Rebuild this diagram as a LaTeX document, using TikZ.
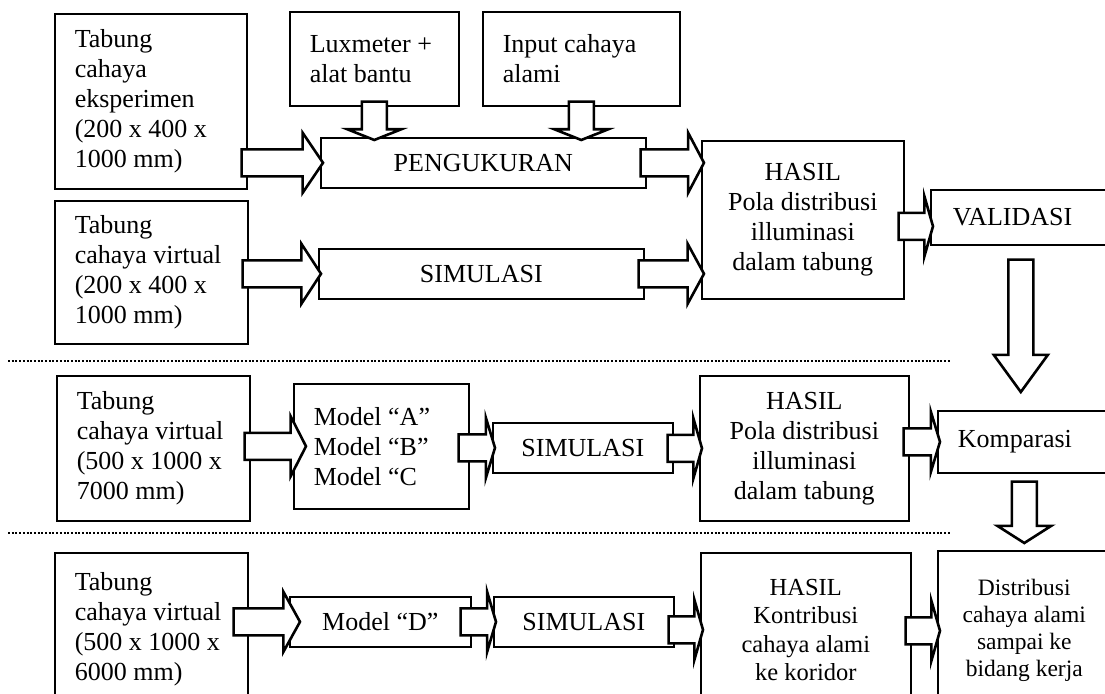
\documentclass[tikz,border=0pt]{standalone}
\usepackage{fontspec}
\setmainfont{Liberation Serif}
\usetikzlibrary{calc}

\tikzset{
  box/.style={draw, line width=1.6pt, fill=white, anchor=north west, inner ysep=4pt},
  lbox/.style={box, align=flush left, inner xsep=20pt},
  cbox/.style={box, align=flush center, inner xsep=4pt},
  harrow/.style={draw, line width=2.6pt, fill=white, line join=miter,
    to path={let \p1=(\tikztostart), \p2=(\tikztotarget), \n1={0.25*(\x2-\x1+9pt)} in
      ({\x1-6pt},{\y2+13.5pt}) -- ({\x2+3pt-\n1},{\y2+13.5pt}) -- ({\x2+3pt-\n1},{\y2+30pt})
      -- ({\x2+3pt},\y2) -- ({\x2+3pt-\n1},{\y2-30pt}) -- ({\x2+3pt-\n1},{\y2-13.5pt})
      -- ({\x1-6pt},{\y2-13.5pt}) -- cycle}},
  varrow/.style={draw, line width=2.6pt, fill=white, line join=miter,
    to path={let \p1=(\tikztostart), \p2=(\tikztotarget), \n1={0.28*(\y1-\y2)} in
      ({\x1-12.5pt},\y1) -- ({\x1-12.5pt},{\y2+\n1}) -- ({\x1-27pt},{\y2+\n1})
      -- (\x1,\y2) -- ({\x1+27pt},{\y2+\n1}) -- ({\x1+12.5pt},{\y2+\n1})
      -- ({\x1+12.5pt},\y1) -- cycle}},
  dotline/.style={line width=2.2pt, dash pattern=on 2pt off 1.7pt}
}

\begin{document}
\begin{tikzpicture}[x=1pt,y=-1pt,font=\fontsize{26}{30}\selectfont]
\path[use as bounding box, clip] (0,0) rectangle (1105,693);

% top: experiment and virtual tube
\node[lbox, text width=152pt, minimum height=175pt] (tabA) at (54,13) {Tabung\\cahaya\\eksperimen\\(200 x 400 x\\1000 mm)};
\node[lbox, text width=153pt, minimum height=143pt] (tabB) at (54,200) {Tabung\\cahaya virtual\\(200 x 400 x\\1000 mm)};
\node[lbox, text width=129pt, minimum height=94pt] (lux) at (289,11) {Luxmeter +\\alat bantu};
\node[lbox, text width=157pt, minimum height=94pt] (inp) at (482,11) {Input cahaya\\alami};
\node[cbox, minimum width=325pt, minimum height=50pt] (peng) at (320,137) {PENGUKURAN};
\node[cbox, minimum width=325pt, minimum height=50pt] (simA) at (318,248) {SIMULASI};
\node[cbox, minimum width=202pt, minimum height=158pt] (hasilA) at (701,140) {HASIL\\Pola distribusi\\illuminasi\\dalam tabung};
\node[lbox, inner xsep=22pt, text width=136pt, minimum height=55pt] (val) at (930,189) {VALIDASI};

% middle: models A B C
\node[lbox, text width=153pt, minimum height=145pt] (tabC) at (56,375) {Tabung\\cahaya virtual\\(500 x 1000 x\\7000 mm)};
\node[lbox, text width=135pt, minimum height=125pt] (modABC) at (293,383) {Model “A”\\Model “B”\\Model “C};
\node[cbox, minimum width=180pt, minimum height=50pt] (simB) at (492,422) {SIMULASI};
\node[cbox, minimum width=209pt, minimum height=145pt] (hasilB) at (699,375) {HASIL\\Pola distribusi\\illuminasi\\dalam tabung};
\node[lbox, text width=133pt, minimum height=62pt] (komp) at (937,410) {Komparasi};

% bottom: model D
\node[lbox, text width=153pt, minimum height=152pt] (tabD) at (54,552) {Tabung\\cahaya virtual\\(500 x 1000 x\\6000 mm)};
\node[cbox, minimum width=181pt, minimum height=50pt] (modD) at (289,596) {Model “D”};
\node[cbox, minimum width=180pt, minimum height=50pt] (simC) at (493,596) {SIMULASI};
\node[cbox, minimum width=210pt, minimum height=154pt, font=\fontsize{24.5}{28.5}\selectfont] (hasilC) at (700,552) {HASIL\\Kontribusi\\cahaya alami\\ke koridor};
\node[cbox, minimum width=173pt, minimum height=160pt, font=\fontsize{23.5}{27}\selectfont] (dist) at (937,550) {Distribusi\\cahaya alami\\sampai ke\\bidang kerja};

\draw[dotline] (8,361) -- (950,361);
\draw[dotline] (8,533) -- (950,533);

\draw[harrow] (tabA.east) to (peng.west);
\draw[harrow] (tabB.east) to (simA.west);
\draw[varrow] ([yshift=5pt]lux.south) to ([yshift=-3pt]lux.south |- peng.north);
\draw[varrow] ([yshift=5pt]inp.south) to ([yshift=-3pt]inp.south |- peng.north);
\draw[harrow] (peng.east) to (peng.east -| hasilA.west);
\draw[harrow] (simA.east) to (simA.east -| hasilA.west);
\draw[harrow] (hasilA.east) to ([yshift=-9pt]val.west);
\draw[varrow] ([yshift=-14pt]val.south) to ([yshift=18pt]komp.north);

\draw[harrow] (tabC.east) to ([xshift=10pt]modABC.west);
\draw[harrow] ([xshift=-5pt]modABC.east) to (simB.west);
\draw[harrow] (simB.east) to (hasilB.west);
\draw[harrow] (hasilB.east) to (komp.west);
\draw[varrow] ([yshift=-8pt]komp.south) to ([yshift=7pt]dist.north);

\draw[harrow] ([xshift=-9pt]tabD.east) to ([xshift=8pt]modD.west);
\draw[harrow] ([xshift=-5pt]modD.east) to (simC.west);
\draw[harrow] (simC.east) to (hasilC.west);
\draw[harrow] (hasilC.east) to (dist.west);
\end{tikzpicture}
\end{document}
